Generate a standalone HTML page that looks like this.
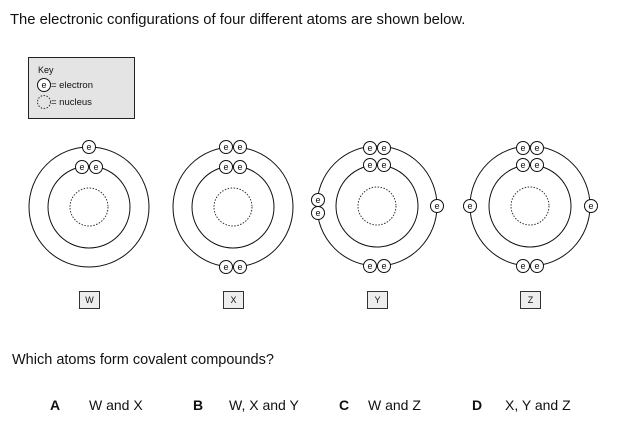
<!DOCTYPE html><html><head><style>body{margin:0;background:#fff}svg{display:block}text{font-family:"Liberation Sans",Arial,sans-serif;fill:#111}</style></head><body>
<svg width="633" height="432" viewBox="0 0 633 432" xmlns="http://www.w3.org/2000/svg">
<defs>
<g id="e"><circle r="6.5" fill="#fff" stroke="#111" stroke-width="1"/><text y="3" text-anchor="middle" font-size="9">e</text></g>
</defs>
<text x="10" y="24" font-size="14.8">The electronic configurations of four different atoms are shown below.</text>
<rect x="28.5" y="57.5" width="106" height="61" fill="#e4e4e4" stroke="#222"/>
<text x="38" y="73" font-size="9">Key</text>
<use href="#e" x="44" y="85"/>
<text x="51" y="88" font-size="9.5">= electron</text>
<circle cx="44" cy="102" r="6.5" fill="none" stroke="#333" stroke-dasharray="1.5,1.5"/>
<text x="51" y="105" font-size="9.5">= nucleus</text>
<g fill="none" stroke="#111" stroke-width="1">
<circle cx="89" cy="207" r="60"/><circle cx="89" cy="207" r="41"/>
<circle cx="233" cy="207" r="60"/><circle cx="233" cy="207" r="41"/>
<circle cx="377" cy="206" r="60"/><circle cx="377" cy="206" r="41"/>
<circle cx="530" cy="206" r="60"/><circle cx="530" cy="206" r="41"/>
</g>
<g fill="none" stroke="#333" stroke-dasharray="1.5,1.5">
<circle cx="89" cy="207" r="19"/><circle cx="233" cy="207" r="19"/><circle cx="377" cy="206" r="19"/><circle cx="530" cy="206" r="19"/>
</g>
<use href="#e" x="89" y="147"/><use href="#e" x="82" y="167"/><use href="#e" x="96" y="167"/>
<use href="#e" x="226" y="147"/><use href="#e" x="240" y="147"/><use href="#e" x="226" y="167"/><use href="#e" x="240" y="167"/><use href="#e" x="226" y="267"/><use href="#e" x="240" y="267"/>
<use href="#e" x="370" y="148"/><use href="#e" x="384" y="148"/><use href="#e" x="370" y="165"/><use href="#e" x="384" y="165"/><use href="#e" x="370" y="266"/><use href="#e" x="384" y="266"/><use href="#e" x="318" y="200"/><use href="#e" x="318" y="213"/><use href="#e" x="437" y="206"/>
<use href="#e" x="523" y="148"/><use href="#e" x="537" y="148"/><use href="#e" x="523" y="165"/><use href="#e" x="537" y="165"/><use href="#e" x="523" y="266"/><use href="#e" x="537" y="266"/><use href="#e" x="470" y="206"/><use href="#e" x="591" y="206"/>
<g fill="#eee" stroke="#333">
<rect x="79.5" y="291.5" width="20" height="17"/><rect x="223.5" y="291.5" width="20" height="17"/><rect x="367.5" y="291.5" width="20" height="17"/><rect x="520.5" y="291.5" width="20" height="17"/>
</g>
<g font-size="9" text-anchor="middle"><text x="89.5" y="303">W</text><text x="233.5" y="303">X</text><text x="377.5" y="303">Y</text><text x="530.5" y="303">Z</text></g>
<text x="12" y="364" font-size="14.5">Which atoms form covalent compounds?</text>
<g font-size="14">
<text x="50" y="410" font-weight="bold">A</text><text x="89" y="410">W and X</text>
<text x="193" y="410" font-weight="bold">B</text><text x="229" y="410">W, X and Y</text>
<text x="339" y="410" font-weight="bold">C</text><text x="368" y="410">W and Z</text>
<text x="472" y="410" font-weight="bold">D</text><text x="505" y="410">X, Y and Z</text>
</g>
</svg>
</body></html>
